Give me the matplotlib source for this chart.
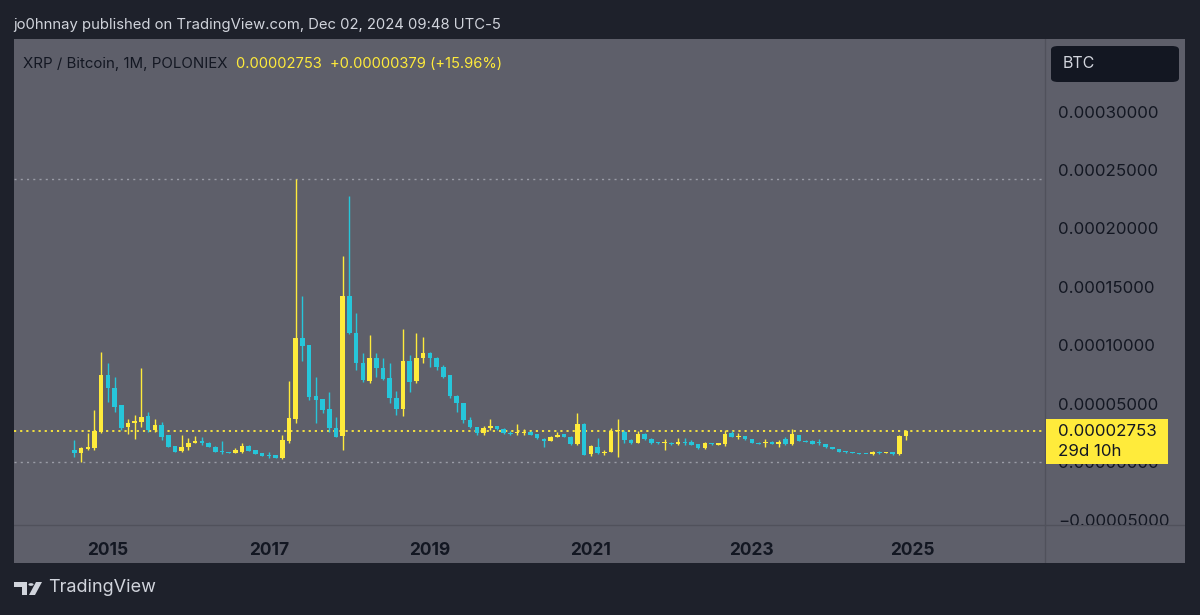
import numpy as np
import matplotlib
matplotlib.use("Agg")
import matplotlib.pyplot as plt
from matplotlib.patches import Rectangle, FancyBboxPatch, Polygon, Circle

plt.rcParams['font.family'] = ['Inter', 'DejaVu Sans']

# XRP / Bitcoin monthly candles, Aug 2014 .. Dec 2024 (values in 1e-6 BTC)
start_year, start_month = 2014, 8
opens = [11.6, 9.2, 12.2, 13.0, 27.2, 75.8, 64.4, 50.0, 31.0, 34.4, 35.3, 40.7,
         28.7, 33.0, 24.4, 15.0, 11.0, 13.9, 17.8, 19.3, 17.8, 14.4, 10.8, 9.7,
         9.2, 10.1, 15.0, 11.6, 9.2, 7.3, 7.3, 4.5, 19.5, 37.8, 107.2, 101.4,
         57.8, 55.0, 46.4, 30.1, 23.5, 143.4, 111.5, 85.8, 70.9, 90.0, 81.5, 72.9,
         55.8, 46.4, 88.0, 70.9, 90.0, 94.3, 90.0, 82.9, 75.8, 57.8, 51.5, 37.2,
         31.0, 26.4, 30.1, 32.1, 29.3, 26.4, 25.9, 25.9, 27.0, 25.0, 20.7, 19.3,
         22.9, 25.0, 22.9, 16.4, 33.8, 7.9, 14.4, 9.2, 9.6, 27.5, 27.2, 20.1,
         17.8, 25.3, 20.7, 18.2, 17.3, 17.8, 16.4, 18.7, 18.7, 16.4, 13.0, 17.3,
         15.8, 16.4, 26.4, 22.9, 23.5, 20.7, 17.8, 17.3, 18.7, 16.7, 20.7, 16.4,
         24.4, 19.5, 19.5, 18.7, 16.4, 13.9, 12.2, 10.1, 9.4, 8.9, 8.3, 7.9,
         9.6, 9.0, 9.6, 8.0, 23.74]
highs = [20.1, 14.4, 25.8, 45.8, 95.7, 85.8, 74.3, 50.0, 37.8, 41.5, 81.5, 44.3,
         38.1, 35.8, 24.4, 15.3, 24.4, 21.6, 23.8, 22.9, 18.2, 15.0, 19.5, 9.9,
         13.3, 17.8, 15.8, 11.9, 9.4, 10.1, 7.5, 24.4, 70.9, 243.3, 143.4, 101.4,
         74.3, 55.0, 61.5, 39.5, 177.6, 229.0, 128.6, 94.3, 110.0, 94.3, 90.0, 85.8,
         62.3, 114.9, 92.9, 112.0, 108.0, 95.7, 91.4, 84.0, 75.8, 58.6, 51.5, 39.5,
         31.5, 32.1, 37.8, 32.5, 30.1, 27.5, 33.8, 29.3, 27.5, 25.5, 21.6, 23.5,
         27.2, 25.5, 23.5, 43.0, 34.4, 15.6, 22.1, 11.6, 30.1, 37.8, 28.5, 20.7,
         28.1, 25.8, 21.6, 18.7, 20.7, 18.2, 21.6, 21.6, 20.1, 16.7, 18.7, 17.5,
         17.5, 28.7, 28.1, 25.8, 23.8, 21.0, 18.0, 20.7, 19.0, 20.1, 22.4, 29.5,
         24.6, 19.7, 19.7, 20.7, 16.7, 14.1, 12.4, 11.0, 9.6, 9.1, 8.5, 10.5,
         11.0, 9.6, 9.8, 24.5, 28.5]
lows = [5.8, 1.5, 11.6, 11.6, 26.4, 52.9, 44.3, 28.7, 25.3, 20.7, 31.5, 27.2,
        27.2, 20.1, 14.1, 9.8, 10.1, 11.6, 17.3, 15.8, 14.1, 9.8, 8.1, 9.0,
        8.9, 9.2, 10.7, 7.9, 6.2, 4.5, 4.3, 3.6, 17.8, 34.4, 88.0, 54.4,
        34.4, 43.0, 27.2, 22.6, 11.6, 111.0, 80.0, 70.0, 68.7, 74.3, 71.5, 51.5,
        41.5, 40.7, 61.5, 68.7, 85.8, 82.9, 80.0, 73.0, 55.8, 44.3, 34.4, 30.1,
        24.4, 24.4, 28.7, 28.7, 25.3, 24.2, 24.4, 24.4, 24.0, 21.0, 13.9, 19.0,
        22.4, 22.4, 15.8, 16.1, 7.0, 6.7, 8.5, 7.3, 9.5, 5.5, 17.3, 16.7,
        17.3, 20.1, 17.0, 17.0, 11.6, 16.2, 15.8, 15.8, 15.5, 12.8, 12.8, 16.2,
        15.5, 15.2, 22.6, 20.7, 20.4, 17.5, 16.7, 14.4, 16.4, 14.4, 16.2, 15.5,
        19.2, 18.0, 16.4, 15.8, 13.6, 12.0, 9.6, 8.7, 8.8, 8.3, 7.8, 7.6,
        8.2, 8.8, 7.6, 7.3, 20.5]
closes = [8.7, 13.0, 14.4, 28.0, 75.8, 64.4, 48.6, 30.1, 34.9, 36.4, 40.0, 28.7,
          33.0, 22.9, 14.4, 10.1, 13.9, 17.3, 19.5, 17.8, 14.4, 10.1, 10.1, 9.2,
          11.6, 15.0, 11.0, 8.1, 6.4, 6.7, 4.5, 20.1, 38.7, 107.2, 100.6, 56.7,
          54.4, 45.8, 30.1, 22.9, 143.4, 111.5, 85.8, 71.5, 90.0, 81.5, 72.0, 55.8,
          46.4, 88.0, 70.0, 90.0, 94.3, 90.0, 82.3, 74.3, 57.8, 51.5, 37.2, 31.0,
          26.4, 30.1, 32.1, 29.3, 25.9, 25.2, 26.7, 27.0, 24.4, 21.6, 19.5, 22.9,
          24.1, 22.9, 16.4, 33.8, 7.3, 15.0, 8.7, 10.1, 28.1, 28.1, 20.1, 17.3,
          25.3, 20.7, 17.3, 17.5, 18.7, 16.4, 18.7, 17.3, 15.8, 13.0, 17.3, 16.4,
          17.3, 25.0, 22.9, 23.8, 20.7, 17.8, 16.9, 18.7, 16.7, 18.7, 16.4, 25.5,
          19.5, 18.2, 16.7, 17.3, 13.9, 12.2, 9.8, 9.6, 9.0, 8.5, 8.0, 9.6,
          9.0, 9.4, 7.9, 23.74, 27.53]

year_labels = [2015, 2017, 2019, 2021, 2023, 2025]
price_ticks = [-0.00005, 0.0, 0.00005, 0.0001, 0.00015, 0.0002, 0.00025, 0.0003]
countdown = "29d 10h"

o = np.array(opens) * 1e-6
h = np.array(highs) * 1e-6
l = np.array(lows) * 1e-6
c = np.array(closes) * 1e-6
x = np.arange(len(o))

BG = '#1e212b'
PANEL = '#5e5f6a'
SEP = '#50515b'
UP = '#ffeb3b'
DOWN = '#26c6da'
DARK = '#131722'
LIGHT = '#d1d4dc'

W, H = 1200, 615
fig = plt.figure(figsize=(12, 6.15), dpi=100, facecolor=BG)


def fr(px0, py0, px1, py1):
    return [px0 / W, 1 - py1 / H, (px1 - px0) / W, (py1 - py0) / H]


# grey chart panel
bg_ax = fig.add_axes(fr(14, 39, 1185, 563))
bg_ax.set_facecolor(PANEL)
bg_ax.set_xticks([]); bg_ax.set_yticks([])
for s in bg_ax.spines.values():
    s.set_visible(False)
bg_ax.axvline(1031 / 1171, color=SEP, lw=1)
bg_ax.axhline(1 - 486 / 524, color=SEP, lw=1)

ax = fig.add_axes(fr(14, 39, 1045, 525))
ax.set_facecolor('none')
ax.set_xlim(-9.0, 144.7)
ax.set_ylim(-5.265e-5, 3.634e-4)
for s in ax.spines.values():
    s.set_visible(False)
ax.set_yticks([])

colors = np.where(c >= o, UP, DOWN)
ax.vlines(x, l, h, colors=colors, lw=1.0, zorder=3)
body_lo = np.minimum(o, c)
body_h = np.maximum(np.abs(c - o), 0.9e-6)
ax.bar(x, body_h, bottom=body_lo, width=0.68, color=colors, zorder=4)

# high / low levels and last price line
ax.axhline(h.max(), color='#9a9ca6', lw=1, ls=(0, (1.5, 3)), zorder=2)
ax.axhline(l.min(), color='#9a9ca6', lw=1, ls=(0, (1.5, 3)), zorder=2)
ax.axhline(c[-1], color=UP, lw=1.3, ls=(0, (1.2, 2.2)), zorder=2)

tick_x = [(y - start_year) * 12 + 1 - start_month for y in year_labels]
ax.set_xticks(tick_x)
ax.set_xticklabels([str(y) for y in year_labels], fontsize=12.5,
                   fontweight='bold', color=DARK)
ax.tick_params(axis='x', length=0, pad=12)

# price scale
ax_r = fig.add_axes(fr(1045, 39, 1185, 525))
ax_r.set_facecolor('none')
ax_r.set_xlim(0, 1)
ax_r.set_ylim(ax.get_ylim())
ax_r.axis('off')
for v in price_ticks:
    txt = f"{v:.8f}".replace('-', '\u2212')
    ax_r.text(0.093, v, txt, fontsize=12.2, color=DARK, va='center', ha='left',
              clip_on=True)
per_px = (ax.get_ylim()[1] - ax.get_ylim()[0]) / 486
ax_r.add_patch(Rectangle((0.007, c[-1] - 33 * per_px), 0.872, 45 * per_px,
                         facecolor=UP, edgecolor='none', zorder=5))
ax_r.text(0.093, c[-1], f"{c[-1]:.8f}", fontsize=12.2, color=DARK,
          va='center', ha='left', zorder=6)
ax_r.text(0.093, c[-1] - 20 * per_px, countdown, fontsize=12.2, color=DARK,
          va='center', ha='left', zorder=6)

# header texts
fig.text(13 / W, 1 - 25 / H,
         "jo0hnnay published on TradingView.com, Dec 02, 2024 09:48 UTC-5",
         fontsize=10.7, color=LIGHT, va='center', ha='left')
fig.text(23 / W, 1 - 64 / H, "XRP / Bitcoin, 1M, POLONIEX",
         fontsize=10.8, color=DARK, va='center', ha='left')
chg = c[-1] - c[-2]
fig.text(236 / W, 1 - 64 / H,
         f"{c[-1]:.8f}  +{chg:.8f} (+{chg / c[-2] * 100:.2f}%)",
         fontsize=10.6, color=UP, va='center', ha='left')

# currency box
fig.patches.append(FancyBboxPatch((1051 / W, 1 - 82 / H), 128 / W, 36 / H,
                                  boxstyle="round,pad=0,rounding_size=0.006",
                                  transform=fig.transFigure, facecolor=DARK,
                                  edgecolor='none'))
fig.text(1063 / W, 1 - 64 / H, "BTC", fontsize=11.5, color=LIGHT,
         va='center', ha='left')

# footer logo
logo_c = '#d1d4dc'
fig.patches.append(Polygon([(14 / W, 1 - 582 / H), (27 / W, 1 - 582 / H),
                            (27 / W, 1 - 595 / H), (22 / W, 1 - 595 / H),
                            (22 / W, 1 - 587 / H), (14 / W, 1 - 587 / H)],
                           closed=True, transform=fig.transFigure,
                           facecolor=logo_c, edgecolor='none'))
fig.patches.append(Circle((31 / W, 1 - 584.5 / H), 2.6 / W,
                          transform=fig.transFigure, facecolor=logo_c,
                          edgecolor='none'))
fig.patches.append(Polygon([(36 / W, 1 - 582 / H), (42 / W, 1 - 582 / H),
                            (35 / W, 1 - 595 / H), (29 / W, 1 - 595 / H)],
                           closed=True, transform=fig.transFigure,
                           facecolor=logo_c, edgecolor='none'))
fig.text(48 / W, 1 - 588 / H, "TradingView", fontsize=13, color=logo_c,
         va='center', ha='left')

fig.savefig('out.png', dpi=100, facecolor=BG)
